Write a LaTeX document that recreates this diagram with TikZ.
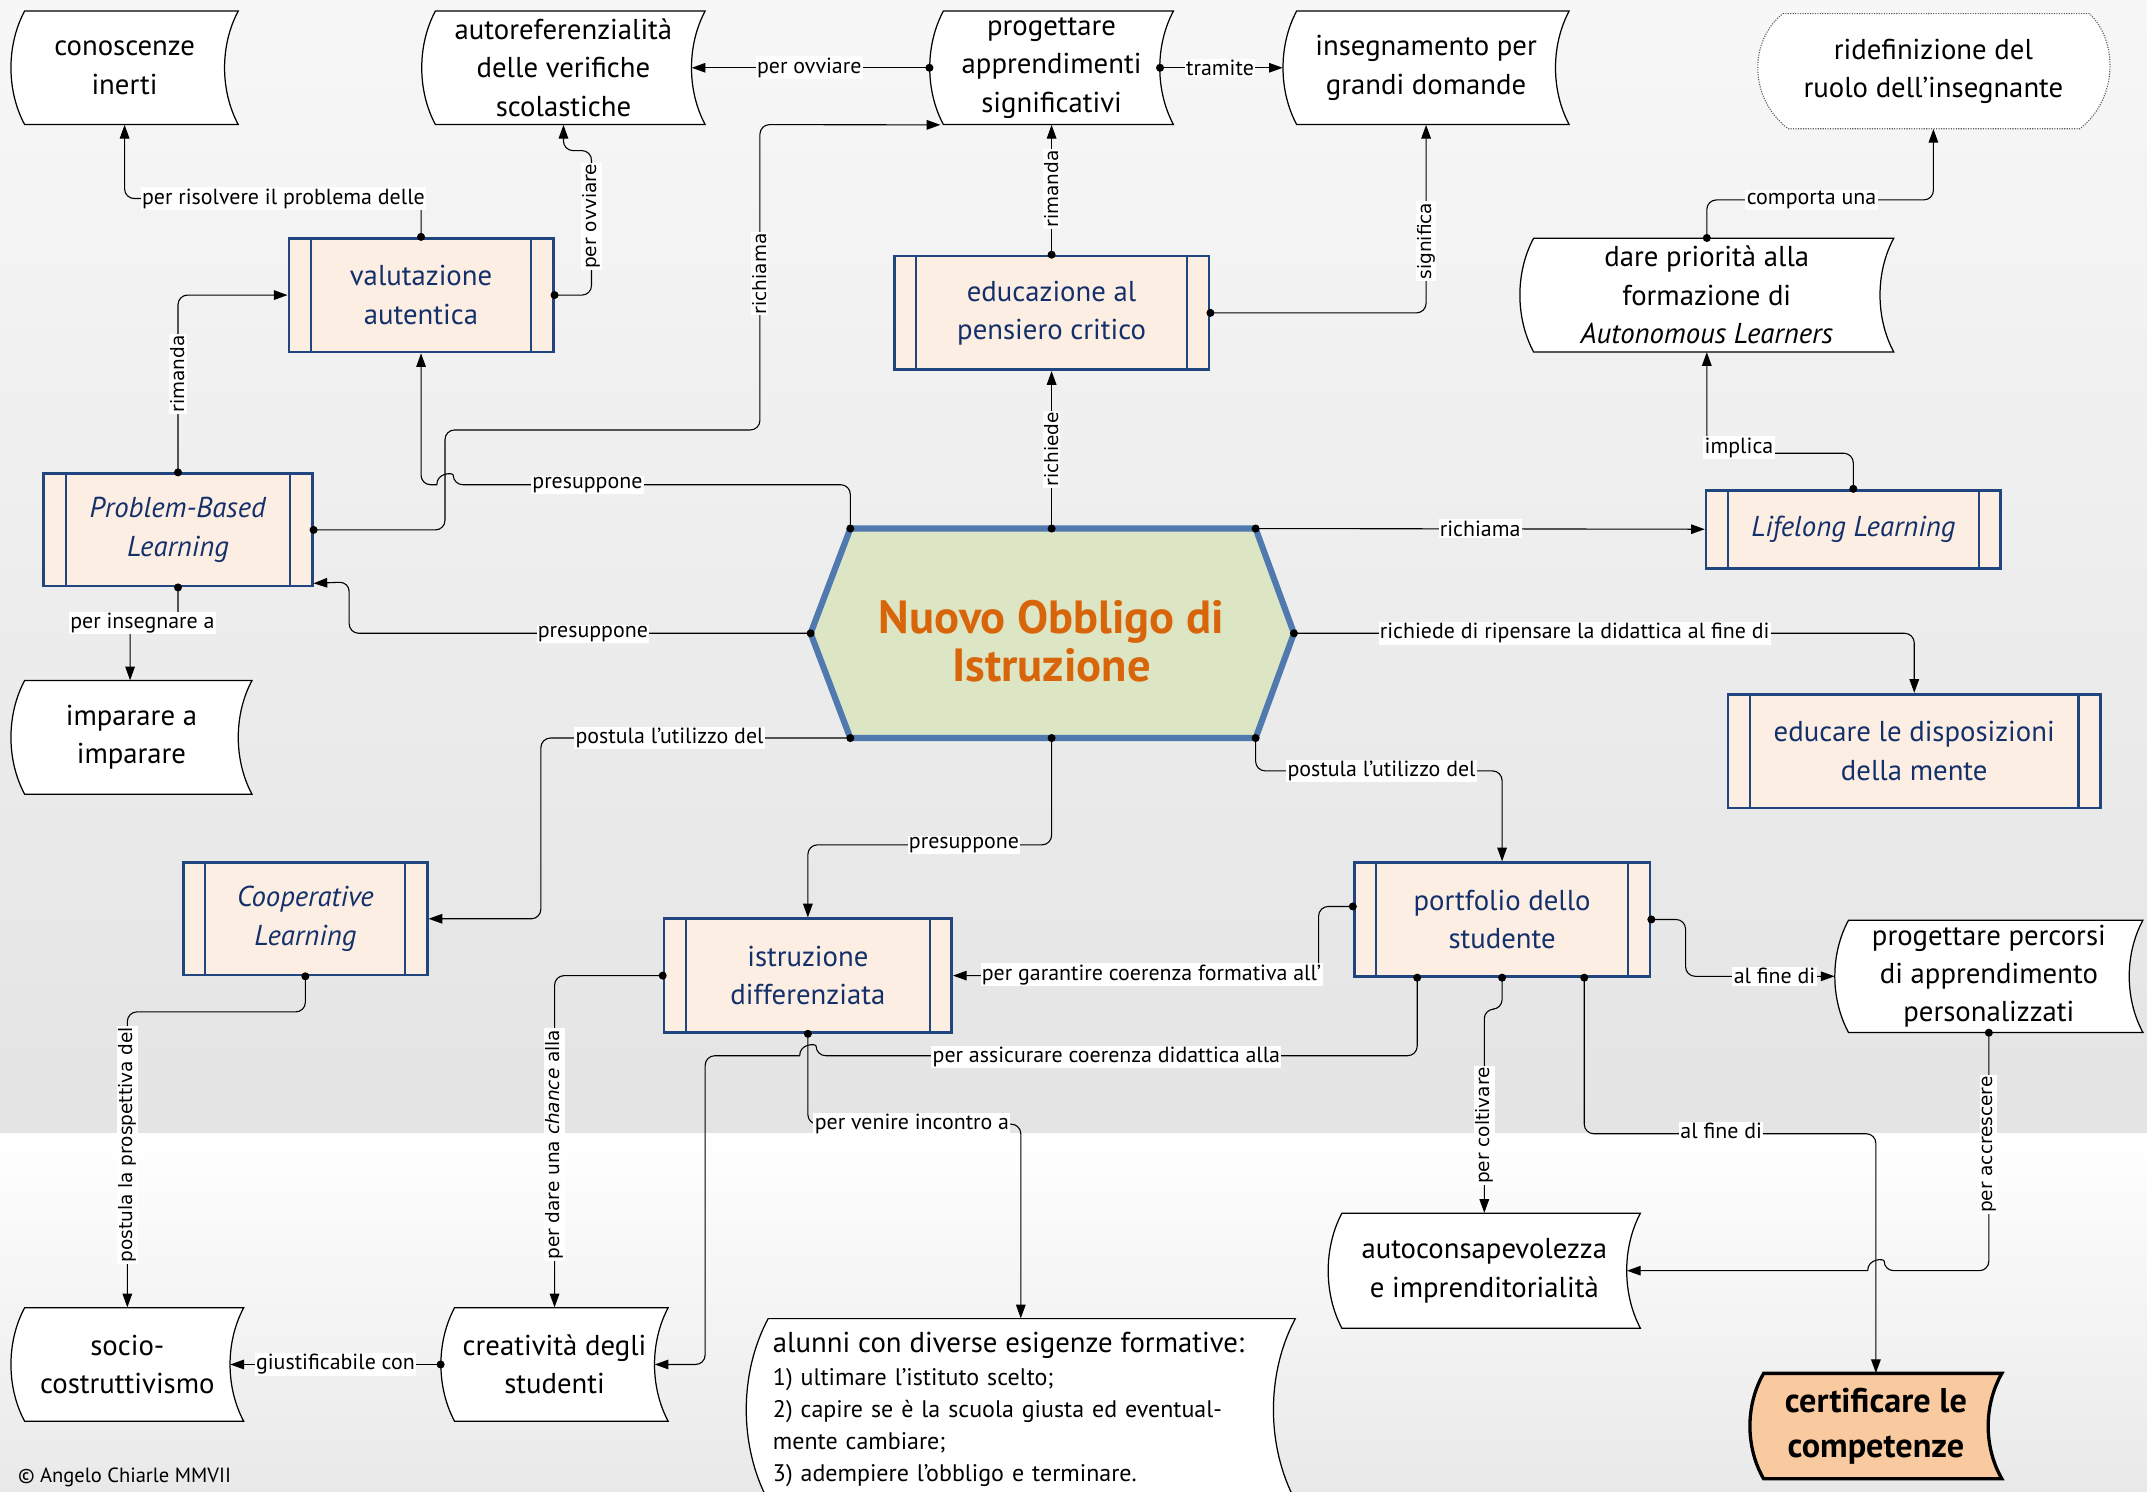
\documentclass[tikz,border=0pt]{standalone}
\usepackage{fontspec}
\setmainfont{PT Sans}
\newfontfamily\rotfont{DejaVu Sans}
\usetikzlibrary{arrows.meta}
\definecolor{boxfill}{HTML}{FCEEE3}
\definecolor{boxline}{HTML}{21467F}
\definecolor{boxtext}{HTML}{14306A}
\definecolor{hexfill}{HTML}{DCE6C5}
\definecolor{hexline}{HTML}{5079B0}
\definecolor{titleor}{HTML}{D9650B}
\definecolor{certfill}{HTML}{F9CA9F}
\definecolor{bgtop}{HTML}{F7F7F7}
\definecolor{bgmid}{HTML}{E4E4E4}
\definecolor{bgbot}{HTML}{E9E9E9}
\tikzset{
 sdshape/.style={draw=black, line width=0.9pt, fill=white},
 sdtext/.style={inner sep=0pt, align=center, font=\fontsize{21}{28}\selectfont, text=black},
 box/.style={draw=boxline, line width=2pt, fill=boxfill, text=boxtext, inner sep=0pt, align=center,
   font=\fontsize{21}{28}\selectfont,
   path picture={\draw[boxline, line width=1.6pt]
     ([xshift=16pt]path picture bounding box.north west) -- ([xshift=16pt]path picture bounding box.south west)
     ([xshift=-16pt]path picture bounding box.north east) -- ([xshift=-16pt]path picture bounding box.south east);}},
 conn/.style={line width=0.8pt, rounded corners=7pt, {Circle[length=5.8pt]}-{Triangle[length=10pt,width=7pt]}, shorten <=-2.9pt},
 lab/.style={fill=white, inner sep=1pt, font=\fontsize{16}{18}\selectfont},
 rlab/.style={fill=white, inner sep=1pt, rotate=90, font=\rotfont\fontsize{13.5}{15}\selectfont},
}
% stored-data shape with a node on top
\newcommand\sdnode[9]{%
 \pgfmathsetmacro\sdA{#4+#8}%
 \pgfmathsetmacro\sdB{#6-1.333*#8}%
 \pgfmathsetmacro\sdC{#4-0.333*#8}%
 \pgfmathsetmacro\sdU{#5+0.3*(#7-#5)}%
 \pgfmathsetmacro\sdL{#7-0.3*(#7-#5)}%
 \path[sdshape,#1] (\sdA,#5) -- (#6,#5) .. controls (\sdB,\sdU) and (\sdB,\sdL) .. (#6,#7) -- (\sdA,#7) .. controls (\sdC,\sdL) and (\sdC,\sdU) .. (\sdA,#5) -- cycle;
 \pgfmathsetmacro\sdW{#6-#4}\pgfmathsetmacro\sdH{#7-#5}%
 \pgfmathsetmacro\sdX{(#4+#6)/2}\pgfmathsetmacro\sdY{(#5+#7)/2}%
 \node[sdtext,minimum width=\sdW pt,minimum height=\sdH pt,#2] (#3) at (\sdX,\sdY) {#9};
}
\begin{document}
\begin{tikzpicture}[x=1pt,y=-1pt]
\useasboundingbox (0,0) rectangle (1568,1089.6);
\clip (0,0) rectangle (1568,1089.6);
% background
\fill[top color=bgtop, bottom color=bgmid] (0,0) rectangle (1568,828);
\fill[top color=white, bottom color=bgbot] (0,828) rectangle (1568,1089.6);

% stored data nodes
\sdnode{}{}{con}{8}{8}{174}{91}{10}{conoscenze\\inerti}
\sdnode{}{}{auto}{308}{8}{515}{91}{10}{autoreferenzialità\\delle verifiche\\scolastiche}
\sdnode{}{}{prog}{679}{8}{857}{91}{10}{progettare\\apprendimenti\\significativi}
\sdnode{}{}{ins}{937}{8}{1146}{91}{10}{insegnamento per\\grandi domande}
\sdnode{}{}{dare}{1110}{174}{1383}{257}{10}{dare priorità alla\\formazione di\\\textit{Autonomous Learners}}
\sdnode{}{}{imp}{8}{497}{184}{580}{10}{imparare a\\imparare}
\sdnode{}{}{perc}{1340}{672}{1565}{754}{10}{progettare percorsi\\di apprendimento\\personalizzati}
\sdnode{}{}{autoc}{970}{886}{1198}{970}{10}{autoconsapevolezza\\e imprenditorialità}
\sdnode{}{}{socio}{8}{955}{178}{1038}{10}{socio-\\costruttivismo}
\sdnode{}{}{crea}{322}{955}{488}{1038}{10}{creatività degli\\studenti}
\sdnode{fill=certfill, line width=2.4pt}{font=\bfseries\fontsize{25}{33}\selectfont}{cert}{1278}{1003}{1462}{1080}{10}{certificare le\\competenze}
\sdnode{}{align=left, text width=362pt, font=\fontsize{17.5}{23.5}\selectfont}{alunni}{545}{963}{946}{1096}{16}{{\fontsize{21}{24}\selectfont alunni con diverse esigenze formative:}\\1) ultimare l’istituto scelto;\\2) capire se è la scuola giusta ed eventual-\\mente cambiare;\\3) adempiere l’obbligo e terminare.}

% ridefinizione
\path[draw=gray!70!black, densely dotted, line width=0.8pt, fill=white] (1302,10) -- (1526,10) .. controls (1547,30) and (1547,72) .. (1519,94) -- (1306,94) .. controls (1277,72) and (1277,30) .. (1302,10) -- cycle;
\node[sdtext, minimum width=256pt, minimum height=84pt] (rid) at (1412,52) {ridefinizione del\\ruolo dell’insegnante};

% boxes
\node[box, minimum width=193pt, minimum height=83pt] (val) at (307.5,215.5) {valutazione\\autentica};
\node[box, minimum width=230pt, minimum height=83pt] (edu) at (768,228.5) {educazione al\\pensiero critico};
\node[box, minimum width=196pt, minimum height=82pt] (pbl) at (130,387) {\textit{Problem-Based}\\\textit{Learning}};
\node[box, minimum width=215pt, minimum height=57pt] (life) at (1353.5,386.5) {\textit{Lifelong Learning}};
\node[box, minimum width=272pt, minimum height=83pt] (educ) at (1398,548.5) {educare le disposizioni\\della mente};
\node[box, minimum width=178pt, minimum height=82pt] (coop) at (223,671) {\textit{Cooperative}\\\textit{Learning}};
\node[box, minimum width=210pt, minimum height=83pt] (istr) at (590,712.5) {istruzione\\differenziata};
\node[box, minimum width=216pt, minimum height=83pt] (port) at (1097,671.5) {portfolio dello\\studente};

% central hexagon
\path[draw=hexline, line width=4.5pt, fill=hexfill] (621,386) -- (917,386) -- (945,462.5) -- (917,539) -- (621,539) -- (592,462.5) -- cycle;
\coordinate (hexTL) at (621,386);
\coordinate (hexT) at (768,386);
\coordinate (hexTR) at (917,386);
\coordinate (hexR) at (945,462.5);
\coordinate (hexBR) at (917,539);
\coordinate (hexB) at (768,539);
\coordinate (hexBL) at (621,539);
\coordinate (hexL) at (592,462.5);
\node[align=center, inner sep=0pt, text=titleor, font=\bfseries\fontsize{34}{35}\selectfont] (hex) at (768,468) {Nuovo Obbligo di\\Istruzione};

% connectors
\draw[conn] (val.north) -- (307.5,145) -- (91,145) -- (con.south);
\draw[conn] (val.east) -- (432,215.5) -- (432,110) -- (411.5,110) -- (auto.south);
\draw[conn] (pbl.north) -- (130,215.5) -- (val.west);
\draw[conn] (pbl.east) -- (325,387) -- (325,314) -- (555,314) -- (555,91) -- ([xshift=8pt]prog.south west);
\draw[conn] (hexTL) -- (621,354) -- (331,354) [sharp corners] .. controls (331,345) and (319,345) .. (319,354) [rounded corners=7pt] -- (307.5,354) -- (val.south);
\draw[conn] (hexL) -- (255,462.5) -- (255,425) -- ([yshift=3pt]pbl.south east);
\draw[conn] (pbl.south) -- (130,455) -- (95,455) -- ([xshift=-1pt]imp.north);
\draw[conn] (hexT) -- (edu.south);
\draw[conn] (edu.north) -- (prog.south);
\draw[conn] (prog.west) -- ([xshift=-10pt]auto.east);
\draw[conn] ([xshift=-10pt]prog.east) -- (ins.west);
\draw[conn] (edu.east) -- (1041.5,228.5) -- (ins.south);
\draw[conn] (hexTR) -- (life.west);
\draw[conn] (life.north) -- (1353.5,331) -- (1246.5,331) -- (dare.south);
\draw[conn] (dare.north) -- (1246.5,146) -- (1412,146) -- (rid.south);
\draw[conn] (hexR) -- (1398,462.5) -- (educ.north);
\draw[conn] (hexBL) -- (395,539) -- (395,671) -- (coop.east);
\draw[conn] (hexBR) -- (917,563) -- (1097,563) -- (port.north);
\draw[conn] (hexB) -- (768,617) -- (590,617) -- (istr.north);
\draw[conn] (coop.south) -- (223,739) -- (93,739) -- (socio.north);
\draw[conn] (istr.west) -- (405,712.5) -- (crea.north);
\draw[conn] (crea.west) -- ([xshift=-10pt]socio.east);
\draw[conn] ([yshift=9.5pt]port.west) -- (963,662) -- (963,712.5) -- (istr.east);
\draw[conn] ([xshift=-62pt]port.south) -- (1035,771) -- (596,771) [sharp corners] .. controls (596,762) and (584,762) .. (584,771) [rounded corners=7pt] -- (515,771) -- (515,996.5) -- ([xshift=-10pt]crea.east);
\draw[conn] (istr.south) -- (590,821) -- (745.5,821) -- (alunni.north);
\draw[conn] (port.south) -- (1097,737) -- (1084,737) -- (autoc.north);
\draw[conn] ([xshift=60pt]port.south) -- (1157,828) -- (1370,828) -- (cert.north);
\draw[conn] (port.east) -- (1231,671.5) -- (1231,713) -- (perc.west);
\draw[conn] (perc.south) -- (1452.5,928) -- (1376,928) [sharp corners] .. controls (1376,919) and (1364,919) .. (1364,928) [rounded corners=7pt] -- ([xshift=-10pt]autoc.east);

% labels
\node[lab] (la) at (207,145) {per risolvere il problema delle};
\node[rlab] (lb) at (432,158) {per ovviare};
\node[rlab] (lc) at (130,273) {rimanda};
\node[rlab] (ld) at (555,200) {richiama};
\node[lab] (le) at (429,354) {presuppone};
\node[lab] (lf) at (433,463) {presuppone};
\node[lab] (lg) at (104,455) {per insegnare a};
\node[rlab] (lh) at (768,328) {richiede};
\node[rlab] (li) at (768,138) {rimanda};
\node[lab] (lj) at (591,49.5) {per ovviare};
\node[lab] (lk) at (891,49.5) {tramite};
\node[rlab] (ll) at (1041.5,176) {significa};
\node[lab] (lm) at (1081,386) {richiama};
\node[lab] (ln) at (1270,327) {implica};
\node[lab] (lo) at (1323,146) {comporta una};
\node[lab] (lp) at (1150,462.5) {richiede di ripensare la didattica al fine di};
\node[lab] (lq) at (489,539) {postula l’utilizzo del};
\node[lab] (lr) at (1009,563) {postula l’utilizzo del};
\node[lab] (ls) at (704,617) {presuppone};
\node[rlab] (lt) at (93,836) {postula la prospettiva del};
\node[rlab] (lu) at (405,836) {per dare una \textit{chance} alla};
\node[lab] (lv) at (245,996.5) {giustificabile con};
\node[lab] (lw) at (841,712) {per garantire coerenza formativa all’};
\node[lab] (lx) at (808,772) {per assicurare coerenza didattica alla};
\node[lab] (ls2) at (666,821) {per venire incontro a};
\node[rlab] (ly) at (1084,822) {per coltivare};
\node[lab] (lz) at (1257,826) {al fine di};
\node[lab] (laa) at (1296,713) {al fine di};
\node[rlab] (lbb) at (1452.5,836) {per accrescere};

% footer
\node[anchor=base west, inner sep=0pt, font=\fontsize{15}{18}\selectfont] (copy) at (13,1083) {© Angelo Chiarle MMVII};
\end{tikzpicture}
\end{document}
